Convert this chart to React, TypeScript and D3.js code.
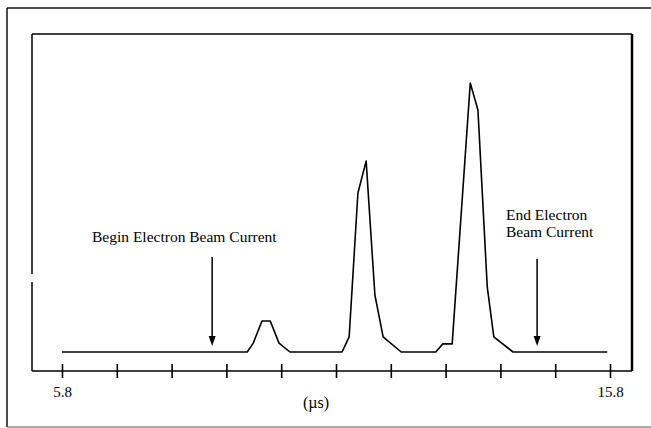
import React, { useEffect, useRef } from 'react';
import * as d3 from 'd3';

// time in microseconds, signal in arbitrary units (baseline = 0)
const times = [5.8, 9.18, 9.29, 9.45, 9.6, 9.76, 9.96, 10.91, 11.04, 11.2, 11.35, 11.51, 11.66, 11.99, 12.62, 12.75, 12.92, 13.25, 13.39, 13.56, 13.68, 14.03, 15.75];
const signal = [0, 0, 3.3, 11.5, 11.5, 3.3, 0, 0, 5.6, 58.9, 70.7, 21.1, 5.6, 0, 0, 3.0, 3.0, 99.6, 89.6, 24.1, 5.6, 0, 0];

const tickValues = [5.8, 6.8, 7.8, 8.8, 9.8, 10.8, 11.8, 12.8, 13.8, 14.8, 15.8];
const tickLabels = ['5.8', '', '', '', '', '', '', '', '', '', '15.8'];
const axisTitle = '(\u00b5s)';

const beginLabel = ['Begin Electron Beam Current'];
const endLabel = ['End Electron', 'Beam Current'];
const beginTime = 8.54;
const endTime = 14.47;

const App = () => {
  const ref = useRef(null);

  useEffect(() => {
    const width = 651;
    const height = 428;
    const box = { left: 32, top: 34, right: 632, bottom: 371 };
    const font = '"Liberation Serif", "DejaVu Serif", serif';

    const root = d3.select(ref.current);
    root.selectAll('*').remove();

    const svg = root.append('svg')
      .attr('width', width)
      .attr('height', height)
      .style('display', 'block')
      .style('background', '#fff');

    const x = d3.scaleLinear().domain([5.8, 15.8]).range([62, 610]);
    const y = d3.scaleLinear().domain([0, 100]).range([352, 82]);

    // outer frame (no right side visible)
    const frame = svg.append('g').attr('stroke', '#111').attr('fill', 'none').attr('stroke-width', 1.5);
    frame.append('line').attr('x1', 7).attr('y1', 8).attr('x2', 651).attr('y2', 8);
    frame.append('line').attr('x1', 7).attr('y1', 8).attr('x2', 7).attr('y2', 427);
    frame.append('line').attr('x1', 7).attr('y1', 427).attr('x2', 651).attr('y2', 427).attr('stroke', '#555').attr('stroke-width', 1);

    // plot box
    const b = svg.append('g').attr('stroke', '#000').attr('fill', 'none');
    b.append('line').attr('x1', box.left).attr('y1', box.top).attr('x2', box.right).attr('y2', box.top).attr('stroke-width', 1.5);
    b.append('line').attr('x1', box.left).attr('y1', box.top).attr('x2', box.left).attr('y2', 274).attr('stroke-width', 1.5);
    b.append('line').attr('x1', box.left).attr('y1', 282).attr('x2', box.left).attr('y2', box.bottom).attr('stroke-width', 1.5);
    b.append('line').attr('x1', box.right).attr('y1', box.top).attr('x2', box.right).attr('y2', box.bottom).attr('stroke-width', 2.5);

    // x axis
    const axis = d3.axisBottom(x)
      .tickValues(tickValues)
      .tickFormat((d, i) => tickLabels[i])
      .tickSizeInner(7)
      .tickSizeOuter(0)
      .tickPadding(8);

    const gx = svg.append('g')
      .attr('transform', `translate(0,${box.bottom})`)
      .call(axis);
    gx.select('.domain')
      .attr('d', `M${box.left},0H${box.right}`)
      .attr('stroke', '#000')
      .attr('stroke-width', 1.5);
    gx.selectAll('.tick line')
      .attr('y1', -7)
      .attr('y2', 7)
      .attr('stroke', '#000')
      .attr('stroke-width', 1.6);
    gx.selectAll('.tick text')
      .attr('fill', '#000')
      .style('font-family', font)
      .style('font-size', '15px');

    svg.append('text')
      .attr('x', 316)
      .attr('y', 408)
      .attr('text-anchor', 'middle')
      .style('font-family', font)
      .style('font-size', '16px')
      .text(axisTitle);

    // signal trace
    const pts = times.map((t, i) => [t, signal[i]]);
    const line = d3.line().x(d => x(d[0])).y(d => y(d[1]));
    svg.append('path')
      .datum(pts)
      .attr('d', line)
      .attr('fill', 'none')
      .attr('stroke', '#000')
      .attr('stroke-width', 1.6)
      .attr('stroke-linejoin', 'round');

    // arrows
    const arrow = (t, y0, y1) => {
      const ax = x(t);
      svg.append('line')
        .attr('x1', ax).attr('y1', y0)
        .attr('x2', ax).attr('y2', y1 - 8)
        .attr('stroke', '#000')
        .attr('stroke-width', 1.5);
      svg.append('path')
        .attr('d', `M${ax - 3.5},${y1 - 10}L${ax + 3.5},${y1 - 10}L${ax},${y1}Z`)
        .attr('fill', '#000');
    };
    arrow(beginTime, 257, 346);
    arrow(endTime, 259, 346);

    const addText = (lines, tx, ty, dy) => {
      lines.forEach((s, i) => {
        svg.append('text')
          .attr('x', tx)
          .attr('y', ty + i * dy)
          .style('font-family', font)
          .style('font-size', '15.5px')
          .attr('fill', '#000')
          .text(s);
      });
    };
    addText(beginLabel, 92, 242, 0);
    addText(endLabel, 506, 220, 16.5);
  }, []);

  return (
    <div style={{ position: 'absolute', left: 0, top: 0 }} ref={ref}></div>
  );
};

export default App;
